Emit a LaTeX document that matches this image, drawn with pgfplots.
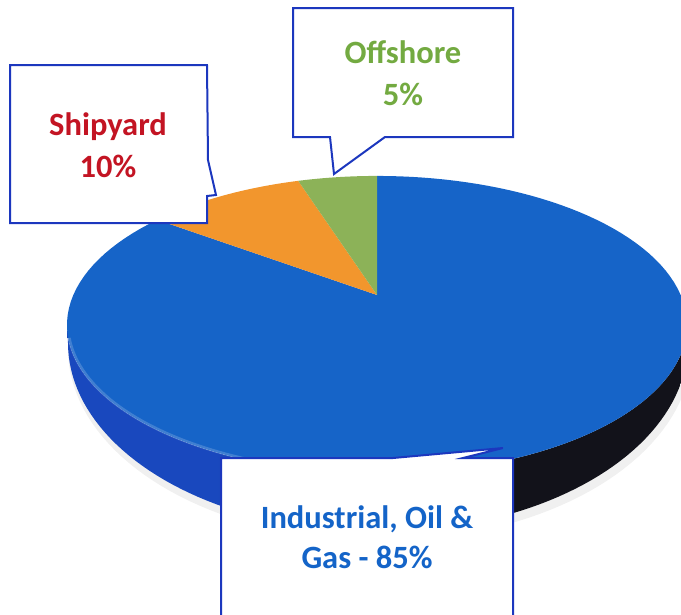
\documentclass[border=0pt]{standalone}
\usepackage{pgfplots}
\pgfplotsset{compat=1.18}
\usepackage{pgfplotstable}
\usepackage{fontspec}
\setmainfont{Carlito}
\definecolor{topblue}{RGB}{22,100,200}
\definecolor{sliceorange}{RGB}{242,150,45}
\definecolor{slicegreen}{RGB}{140,178,88}
\definecolor{boxblue}{RGB}{28,55,190}
\definecolor{txtred}{RGB}{195,20,35}
\definecolor{txtgreen}{RGB}{115,170,65}
\definecolor{txtblue}{RGB}{20,100,200}
\definecolor{sideblue}{RGB}{25,72,190}
\definecolor{sidemid}{RGB}{15,40,125}
\definecolor{sidedark}{RGB}{18,18,26}
\pgfdeclarehorizontalshading{sideshade}{100bp}{color(0bp)=(sideblue); color(37bp)=(sideblue); color(50bp)=(sidemid); color(60bp)=(sidedark); color(100bp)=(sidedark)}

\pgfplotstableread{
label value
Offshore 5
Shipyard 10
Industrial 85
}\sharestable
\pgfplotstablegetelem{0}{value}\of\sharestable \let\vA\pgfplotsretval
\pgfplotstablegetelem{1}{value}\of\sharestable \let\vB\pgfplotsretval
\pgfplotstablegetelem{2}{value}\of\sharestable \let\vC\pgfplotsretval
\pgfmathsetmacro\aA{90}
\pgfmathsetmacro\aB{\aA+3.6*\vA}
\pgfmathsetmacro\aC{\aB+3.6*\vB}
\pgfmathsetmacro\aD{\aC+3.6*\vC}
% perspective projection of the pie's top circle (pixel units, y downwards)
\pgfmathdeclarefunction{pxx}{1}{\pgfmathparse{377+303.7*cos(#1)/(1+0.201*sin(#1))}}
\pgfmathdeclarefunction{pyy}{1}{\pgfmathparse{295-143*sin(#1)/(1+0.201*sin(#1))}}

\begin{document}
\begin{tikzpicture}
\begin{axis}[hide axis, scale only axis, width=681pt, height=614pt,
  xmin=0, xmax=681, ymin=0, ymax=614, y dir=reverse, clip=true]
% faint shadow
\fill[black, opacity=0.06] (axis cs:70,340) -- plot[domain=180:360, samples=80, variable=\t] ({380+312*cos(\t)},{349-192*sin(\t)}) -- (axis cs:692,340) -- cycle;
% side of the pie
\path[shading=sideshade] (axis cs:67,325) -- plot[domain=180:360, samples=90, variable=\t] ({378+310*cos(\t)},{343-189*sin(\t)}) -- (axis cs:687,325) -- plot[domain=360:180, samples=90, variable=\t] ({377+310*cos(\t)},{325-149*sin(\t)}) -- cycle;
% top slices
\fill[topblue] (axis cs:377,295) -- plot[domain=\aC:\aD, samples=120, variable=\t] ({pxx(\t)},{pyy(\t)}) -- cycle;
\fill[sliceorange] (axis cs:377,295) -- plot[domain=\aB:\aC, samples=30, variable=\t] ({pxx(\t)},{pyy(\t)}) -- cycle;
\fill[slicegreen] (axis cs:377,295) -- plot[domain=\aA:\aB, samples=20, variable=\t] ({pxx(\t)},{pyy(\t)}) -- cycle;
% soft edge highlight
\draw[white, opacity=0.18, line width=3pt] plot[domain=185:255, samples=40, variable=\t] ({377+309*cos(\t)},{325-148*sin(\t)});
% callouts
\filldraw[fill=white, draw=boxblue, line width=2pt, line join=miter]
  (axis cs:10,65) -- (axis cs:207,65) -- (axis cs:208,160) -- (axis cs:216,195) -- (axis cs:207,196) -- (axis cs:207,223) -- (axis cs:10,223) -- cycle;
\filldraw[fill=white, draw=boxblue, line width=2pt, line join=miter]
  (axis cs:293,8) -- (axis cs:513,8) -- (axis cs:513,137) -- (axis cs:385,137) -- (axis cs:334,174) -- (axis cs:330,137) -- (axis cs:293,137) -- cycle;
\filldraw[fill=white, draw=boxblue, line width=2pt, line join=miter]
  (axis cs:221,640) -- (axis cs:221,458) -- (axis cs:393,458) -- (axis cs:503,448) -- (axis cs:463,458) -- (axis cs:513,458) -- (axis cs:513,640);
\node[anchor=base, text=txtred, font=\fontsize{32.5}{40}\selectfont\bfseries] at (axis cs:108,135) {Shipyard};
\node[anchor=base, text=txtred, font=\fontsize{32.5}{40}\selectfont\bfseries] at (axis cs:108,177) {10\%};
\node[anchor=base, text=txtgreen, font=\fontsize{32.5}{40}\selectfont\bfseries] at (axis cs:403,63) {Offshore};
\node[anchor=base, text=txtgreen, font=\fontsize{32.5}{40}\selectfont\bfseries] at (axis cs:403,105) {5\%};
\node[anchor=base, text=txtblue, font=\fontsize{32.5}{40}\selectfont\bfseries] at (axis cs:367,528) {Industrial, Oil \&};
\node[anchor=base, text=txtblue, font=\fontsize{32.5}{40}\selectfont\bfseries] at (axis cs:367,568) {Gas - 85\%};
\end{axis}
\pgfresetboundingbox
\useasboundingbox (current axis.south west) rectangle (current axis.north east);
\end{tikzpicture}
\end{document}
